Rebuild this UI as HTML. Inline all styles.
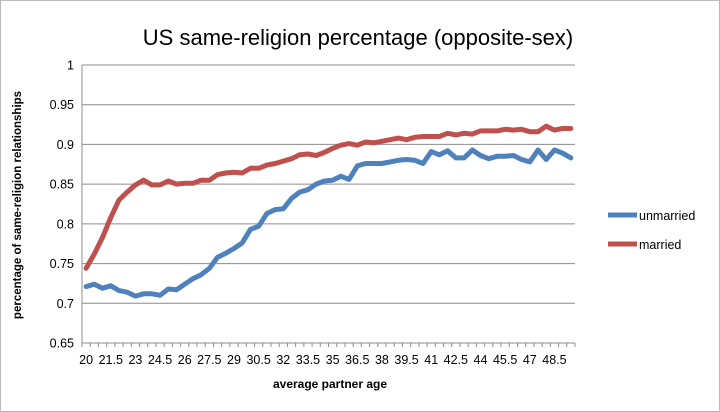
<!DOCTYPE html>
<html><head><meta charset="utf-8"><style>
html,body{margin:0;padding:0;background:#fff;}
svg{display:block;font-family:"Liberation Sans",sans-serif;}
</style></head><body>
<svg id="c" width="720" height="412" viewBox="0 0 720 412" xmlns="http://www.w3.org/2000/svg">
<rect x="0.5" y="0.5" width="719" height="411" fill="#fff" stroke="#bbb"/>
<text x="358" y="45" font-size="22" text-anchor="middle" fill="#000">US same-religion percentage (opposite-sex)</text>
<text transform="translate(21,205) rotate(-90)" font-size="11.5" font-weight="bold" text-anchor="middle">percentage of same-religion relationships</text>
<text x="330" y="388" font-size="12" font-weight="bold" text-anchor="middle">average partner age</text>
<g id="grid"></g>
<g id="series"></g>
<line x1="608" y1="215" x2="637" y2="215" stroke="#4f81bd" stroke-width="5"/>
<text x="639" y="220" font-size="12.5">unmarried</text>
<line x1="608" y1="244" x2="637" y2="244" stroke="#c0504d" stroke-width="5"/>
<text x="639" y="249" font-size="12.5">married</text>
</svg>
<script>
var ns="http://www.w3.org/2000/svg";
var g=document.getElementById('grid'),s=document.getElementById('series');
function el(t,a,p,txt){var e=document.createElementNS(ns,t);for(var k in a)e.setAttribute(k,a[k]);if(txt!==undefined)e.textContent=txt;p.appendChild(e);return e;}
var L=82,R=575,T=65,B=343,n=60,w=(R-L)/n;
function Y(v){return T+(1-v)*(B-T)/0.35;}
var labs=["1","0.95","0.9","0.85","0.8","0.75","0.7","0.65"];
for(var i=0;i<8;i++){var y=T+i*(B-T)/7;
 if(i<7)el('line',{x1:L,y1:y,x2:R,y2:y,stroke:'#8c8c8c','stroke-width':1},g);
 el('text',{x:74,y:y+4.5,'font-size':12.5,'text-anchor':'end'},g,labs[i]);}
el('line',{x1:L,y1:T,x2:L,y2:B,stroke:'#8c8c8c'},g);
el('line',{x1:L,y1:B,x2:R,y2:B,stroke:'#8c8c8c'},g);
for(var i=0;i<=n;i++){var x=L+i*w;el('line',{x1:x,y1:B,x2:x,y2:B+4,stroke:'#8c8c8c'},g);}
for(var i=0;i<n;i+=3){el('text',{x:L+(i+0.5)*w,y:364,'font-size':12.5,'text-anchor':'middle'},g,String(20+i*0.5));}
var m=[0.744,0.762,0.783,0.808,0.83,0.840,0.849,0.855,0.849,0.849,0.854,0.850,0.851,0.851,0.855,0.855,0.862,0.864,0.865,0.864,0.870,0.870,0.874,0.876,0.879,0.882,0.887,0.888,0.886,0.890,0.895,0.899,0.901,0.899,0.903,0.902,0.904,0.906,0.908,0.906,0.909,0.910,0.910,0.910,0.914,0.912,0.914,0.913,0.917,0.917,0.917,0.919,0.918,0.919,0.916,0.916,0.923,0.918,0.920,0.920];
var u=[0.721,0.724,0.719,0.722,0.716,0.714,0.709,0.712,0.712,0.710,0.718,0.717,0.724,0.731,0.736,0.744,0.758,0.763,0.769,0.776,0.793,0.797,0.813,0.818,0.819,0.832,0.840,0.843,0.850,0.854,0.855,0.860,0.856,0.873,0.876,0.876,0.876,0.878,0.880,0.881,0.880,0.876,0.891,0.887,0.892,0.883,0.883,0.893,0.886,0.882,0.885,0.885,0.886,0.881,0.878,0.893,0.881,0.893,0.889,0.883];
function pl(d,c){var p=d.map(function(v,i){return (L+(i+0.5)*w).toFixed(1)+','+Y(v).toFixed(1);}).join(' ');
 el('polyline',{points:p,fill:'none',stroke:c,'stroke-width':5,'stroke-linejoin':'round','stroke-linecap':'round'},s);}
pl(u,'#4f81bd');pl(m,'#c0504d');
</script>
</body></html>
